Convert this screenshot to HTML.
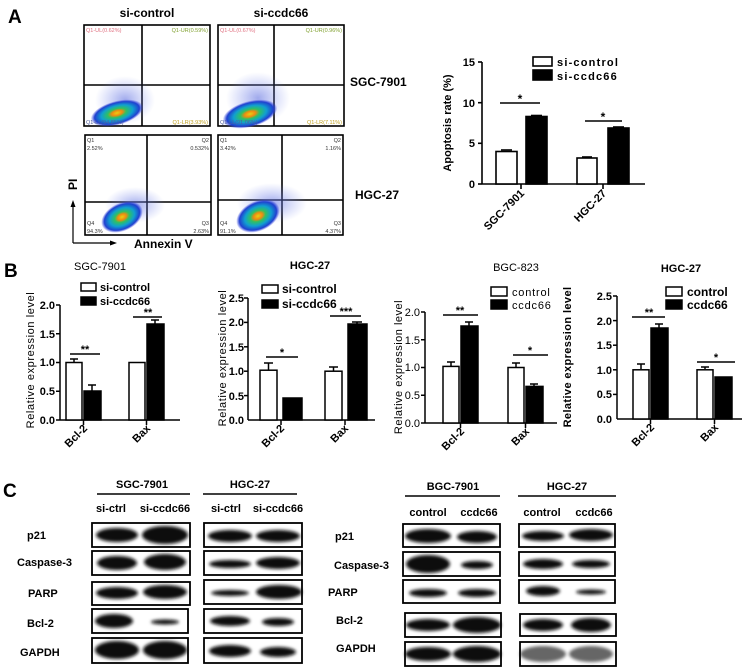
<!DOCTYPE html>
<html><head><meta charset="utf-8"><style>
html,body{margin:0;padding:0;background:#fff;}
svg{display:block;font-family:"Liberation Sans",Arial,sans-serif;}
.b{font-weight:bold;}
</style></head><body>
<svg width="749" height="669" viewBox="0 0 749 669" xmlns="http://www.w3.org/2000/svg">
<defs>
<radialGradient id="dens" cx="50%" cy="50%" r="50%">
<stop offset="0" stop-color="#e8d010"/>
<stop offset="0.2" stop-color="#f08a10"/>
<stop offset="0.35" stop-color="#30c060"/>
<stop offset="0.6" stop-color="#10a0d0"/>
<stop offset="0.85" stop-color="#2040d0"/>
<stop offset="1" stop-color="#3040e0" stop-opacity="0"/>
</radialGradient>
<radialGradient id="halo" cx="50%" cy="50%" r="50%">
<stop offset="0" stop-color="#6070e0" stop-opacity="0.6"/>
<stop offset="1" stop-color="#8090f0" stop-opacity="0"/>
</radialGradient>
<filter id="bl" x="-30%" y="-80%" width="160%" height="260%"><feGaussianBlur stdDeviation="1.6"/></filter>
</defs>

<!-- ===== A ===== -->
<text x="8" y="23" class="b" font-size="19">A</text>
<text x="147" y="17" class="b" font-size="12" text-anchor="middle">si-control</text>
<text x="281" y="17" class="b" font-size="12" text-anchor="middle">si-ccdc66</text>

<g fill="none" stroke="#000" stroke-width="1.6">
<rect x="84" y="25" width="126" height="101"/>
<rect x="218" y="25" width="126" height="101"/>
<rect x="85" y="135" width="126" height="100"/>
<rect x="218" y="135" width="125" height="100"/>
<line x1="142" y1="25" x2="142" y2="126"/><line x1="84" y1="85" x2="210" y2="85"/>
<line x1="274" y1="25" x2="274" y2="126"/><line x1="218" y1="85" x2="344" y2="85"/>
<line x1="147" y1="135" x2="147" y2="235"/><line x1="85" y1="202" x2="211" y2="202"/>
<line x1="282" y1="135" x2="282" y2="235"/><line x1="218" y1="200" x2="343" y2="200"/>
</g>
<ellipse cx="125" cy="100" rx="30" ry="24" fill="url(#halo)"/>
<ellipse cx="117" cy="113" rx="27" ry="12" fill="url(#dens)" transform="rotate(-15 117 113)"/>
<ellipse cx="258" cy="98" rx="32" ry="26" fill="url(#halo)"/>
<ellipse cx="250" cy="114" rx="28" ry="13" fill="url(#dens)" transform="rotate(-15 250 114)"/>
<ellipse cx="135" cy="205" rx="30" ry="18" fill="url(#halo)"/>
<ellipse cx="122" cy="217" rx="22" ry="14" fill="url(#dens)" transform="rotate(-25 122 217)"/>
<ellipse cx="272" cy="203" rx="35" ry="20" fill="url(#halo)"/>
<ellipse cx="258" cy="216" rx="23" ry="15" fill="url(#dens)" transform="rotate(-25 258 216)"/>
<g font-size="5.5">
<text x="86" y="32" fill="#e07080">Q1-UL(0.62%)</text>
<text x="208" y="32" fill="#80a030" text-anchor="end">Q1-UR(0.59%)</text>
<text x="86" y="124" fill="#5060a0">Q1-LL(94.85%)</text>
<text x="208" y="124" fill="#c0a020" text-anchor="end">Q1-LR(3.93%)</text>
<text x="220" y="32" fill="#e07080">Q1-UL(0.67%)</text>
<text x="342" y="32" fill="#80a030" text-anchor="end">Q1-UR(0.96%)</text>
<text x="220" y="124" fill="#5060a0">Q1-LL(91.06%)</text>
<text x="342" y="124" fill="#c0a020" text-anchor="end">Q1-LR(7.11%)</text>
<g fill="#333">
<text x="87" y="142">Q1</text><text x="87" y="150">2.52%</text>
<text x="209" y="142" text-anchor="end">Q2</text><text x="209" y="150" text-anchor="end">0.532%</text>
<text x="87" y="225">Q4</text><text x="87" y="233">94.3%</text>
<text x="209" y="225" text-anchor="end">Q3</text><text x="209" y="233" text-anchor="end">2.63%</text>
<text x="220" y="142">Q1</text><text x="220" y="150">3.42%</text>
<text x="341" y="142" text-anchor="end">Q2</text><text x="341" y="150" text-anchor="end">1.16%</text>
<text x="220" y="225">Q4</text><text x="220" y="233">91.1%</text>
<text x="341" y="225" text-anchor="end">Q3</text><text x="341" y="233" text-anchor="end">4.37%</text>
</g></g>
<text x="350" y="86" class="b" font-size="12">SGC-7901</text>
<text x="355" y="199" class="b" font-size="12">HGC-27</text>
<line x1="73" y1="243" x2="73" y2="205" stroke="#000" stroke-width="1.2"/>
<polygon points="73,200 70.5,207 75.5,207" fill="#000"/>
<line x1="73" y1="243" x2="112" y2="243" stroke="#000" stroke-width="1.2"/>
<polygon points="117,243 110,240.5 110,245.5" fill="#000"/>
<text x="0" y="0" class="b" font-size="12" transform="translate(77 190) rotate(-90)">PI</text>
<text x="134" y="248" class="b" font-size="12">Annexin V</text>

<!-- apoptosis bar chart -->
<g stroke="#000" stroke-width="1.6" fill="none">
<line x1="482" y1="62" x2="482" y2="184"/><line x1="482" y1="184" x2="645" y2="184"/>
<line x1="478" y1="62" x2="482" y2="62"/><line x1="478" y1="102.7" x2="482" y2="102.7"/>
<line x1="478" y1="143.3" x2="482" y2="143.3"/><line x1="478" y1="184" x2="482" y2="184"/>
<line x1="521" y1="184" x2="521" y2="189"/><line x1="603" y1="184" x2="603" y2="189"/>
<rect x="496" y="151.5" width="21" height="32.5" fill="#fff"/>
<rect x="526" y="116.5" width="21" height="67.5" fill="#000"/>
<rect x="577" y="158" width="20" height="26" fill="#fff"/>
<rect x="608" y="128" width="21" height="56" fill="#000"/>
<line x1="501" y1="150" x2="512" y2="150"/><line x1="531" y1="115.5" x2="542" y2="115.5"/>
<line x1="582" y1="157" x2="592" y2="157"/><line x1="613" y1="127" x2="624" y2="127"/>
<line x1="500" y1="103" x2="540" y2="103"/><line x1="585" y1="121" x2="622" y2="121"/>
<rect x="533" y="57" width="19" height="9" fill="#fff"/>
<rect x="533" y="70" width="19" height="10" fill="#000"/>
</g>
<g class="b" font-size="11" text-anchor="end">
<text x="475" y="66">15</text><text x="475" y="107">10</text><text x="475" y="147">5</text><text x="475" y="188">0</text>
</g>
<text x="520" y="103" class="b" font-size="12" text-anchor="middle">*</text>
<text x="603" y="121" class="b" font-size="12" text-anchor="middle">*</text>
<text x="557" y="66" class="b" font-size="11" letter-spacing="1.2">si-control</text>
<text x="557" y="80" class="b" font-size="11" letter-spacing="1.2">si-ccdc66</text>
<text class="b" font-size="11" text-anchor="middle" transform="translate(451 123) rotate(-90)">Apoptosis rate (%)</text>
<text class="b" font-size="11" text-anchor="end" transform="translate(525 194) rotate(-45)">SGC-7901</text>
<text class="b" font-size="11" text-anchor="end" transform="translate(607 194) rotate(-45)">HGC-27</text>

<!-- ===== B ===== -->
<text x="4" y="277" class="b" font-size="19">B</text>

<!-- B1 -->
<text x="100" y="270" font-size="11" text-anchor="middle">SGC-7901</text>
<g stroke="#000" stroke-width="1.5" fill="none">
<line x1="60" y1="305" x2="60" y2="420"/><line x1="60" y1="420" x2="180" y2="420"/>
<line x1="56" y1="305" x2="60" y2="305"/><line x1="56" y1="333.75" x2="60" y2="333.75"/><line x1="56" y1="362.5" x2="60" y2="362.5"/><line x1="56" y1="391.25" x2="60" y2="391.25"/><line x1="56" y1="420" x2="60" y2="420"/>
<line x1="83.5" y1="420" x2="83.5" y2="425"/><line x1="146.5" y1="420" x2="146.5" y2="425"/>
<rect x="66" y="362.5" width="16" height="57.5" fill="#fff"/>
<rect x="84" y="391" width="17" height="29" fill="#000"/>
<rect x="129" y="362.5" width="16" height="57.5" fill="#fff"/>
<rect x="147" y="324" width="17" height="96" fill="#000"/>
<line x1="74" y1="362" x2="74" y2="359"/><line x1="70" y1="359" x2="78" y2="359"/>
<line x1="92" y1="391" x2="92" y2="385"/><line x1="88" y1="385" x2="96" y2="385"/>
<line x1="155" y1="324" x2="155" y2="320"/><line x1="151" y1="320" x2="159" y2="320"/>
<line x1="70" y1="354" x2="100" y2="354"/><line x1="133" y1="317" x2="162" y2="317"/>
<rect x="81" y="283" width="15" height="8" fill="#fff"/><rect x="81" y="297" width="15" height="8" fill="#000"/>
</g>
<g font-size="11" text-anchor="end" class="b">
<text x="55" y="309">2.0</text><text x="55" y="338">1.5</text><text x="55" y="366">1.0</text><text x="55" y="395">0.5</text><text x="55" y="424">0.0</text>
</g>
<text x="85" y="353" class="b" font-size="11" text-anchor="middle">**</text>
<text x="148" y="316" class="b" font-size="11" text-anchor="middle">**</text>
<text x="100" y="291" class="b" font-size="11">si-control</text>
<text x="100" y="305" class="b" font-size="11">si-ccdc66</text>
<text font-size="11" text-anchor="middle" letter-spacing="0.6" transform="translate(34 360) rotate(-90)">Relative  expression level</text>
<text class="b" font-size="11" text-anchor="end" transform="translate(88 429) rotate(-45)">Bcl-2</text>
<text class="b" font-size="11" text-anchor="end" transform="translate(151 429) rotate(-45)">Bax</text>

<!-- B2 -->
<text x="310" y="269" class="b" font-size="11" text-anchor="middle">HGC-27</text>
<g stroke="#000" stroke-width="1.5" fill="none">
<line x1="248" y1="298" x2="248" y2="420"/><line x1="248" y1="420" x2="375" y2="420"/>
<line x1="244" y1="298" x2="248" y2="298"/><line x1="244" y1="322.4" x2="248" y2="322.4"/><line x1="244" y1="346.8" x2="248" y2="346.8"/><line x1="244" y1="371.2" x2="248" y2="371.2"/><line x1="244" y1="395.6" x2="248" y2="395.6"/>
<line x1="281" y1="420" x2="281" y2="425"/><line x1="345" y1="420" x2="345" y2="425"/>
<rect x="260" y="370.2" width="17" height="49.8" fill="#fff"/>
<rect x="283" y="398" width="19" height="22" fill="#000"/>
<rect x="325" y="371.2" width="17" height="48.8" fill="#fff"/>
<rect x="348" y="324" width="19" height="96" fill="#000"/>
<line x1="268.5" y1="370" x2="268.5" y2="363"/><line x1="264" y1="363" x2="273" y2="363"/>
<line x1="333.5" y1="371" x2="333.5" y2="367"/><line x1="329" y1="367" x2="338" y2="367"/>
<line x1="357" y1="324" x2="357" y2="322"/><line x1="352" y1="322" x2="362" y2="322"/>
<line x1="266" y1="357" x2="298" y2="357"/><line x1="330" y1="316" x2="361" y2="316"/>
<rect x="262" y="285" width="16" height="8" fill="#fff"/><rect x="262" y="300" width="16" height="8" fill="#000"/>
</g>
<g font-size="11" text-anchor="end" class="b">
<text x="244" y="302">2.5</text><text x="244" y="326">2.0</text><text x="244" y="351">1.5</text><text x="244" y="375">1.0</text><text x="244" y="400">0.5</text><text x="244" y="424">0.0</text>
</g>
<text x="282" y="356" class="b" font-size="11" text-anchor="middle">*</text>
<text x="346" y="315" class="b" font-size="11" text-anchor="middle">***</text>
<text x="282" y="293" class="b" font-size="12">si-control</text>
<text x="282" y="308" class="b" font-size="12">si-ccdc66</text>
<text font-size="11" text-anchor="middle" letter-spacing="0.6" transform="translate(226 358) rotate(-90)">Relative  expression level</text>
<text class="b" font-size="11" text-anchor="end" transform="translate(285 429) rotate(-45)">Bcl-2</text>
<text class="b" font-size="11" text-anchor="end" transform="translate(349 429) rotate(-45)">Bax</text>

<!-- B3 -->
<text x="516" y="271" font-size="11" text-anchor="middle">BGC-823</text>
<g stroke="#000" stroke-width="1.5" fill="none">
<line x1="425" y1="312" x2="425" y2="423"/><line x1="425" y1="423" x2="557" y2="423"/>
<line x1="421" y1="312" x2="425" y2="312"/><line x1="421" y1="339.75" x2="425" y2="339.75"/><line x1="421" y1="367.5" x2="425" y2="367.5"/><line x1="421" y1="395.25" x2="425" y2="395.25"/><line x1="421" y1="423" x2="425" y2="423"/>
<line x1="460.5" y1="423" x2="460.5" y2="428"/><line x1="525.5" y1="423" x2="525.5" y2="428"/>
<rect x="443" y="366.4" width="16" height="56.6" fill="#fff"/>
<rect x="461" y="326" width="17" height="97" fill="#000"/>
<rect x="508" y="367.5" width="16" height="55.5" fill="#fff"/>
<rect x="526" y="386.4" width="17" height="36.6" fill="#000"/>
<line x1="451" y1="366" x2="451" y2="362"/><line x1="447" y1="362" x2="455" y2="362"/>
<line x1="469" y1="326" x2="469" y2="322"/><line x1="465" y1="322" x2="473" y2="322"/>
<line x1="516" y1="367" x2="516" y2="363"/><line x1="512" y1="363" x2="520" y2="363"/>
<line x1="534" y1="386" x2="534" y2="384"/><line x1="530" y1="384" x2="538" y2="384"/>
<line x1="443" y1="315" x2="478" y2="315"/><line x1="513" y1="355" x2="548" y2="355"/>
<rect x="491" y="287" width="16" height="9" fill="#fff"/><rect x="491" y="300" width="16" height="9" fill="#000"/>
</g>
<g font-size="11" text-anchor="end">
<text x="420" y="316">2.0</text><text x="420" y="344">1.5</text><text x="420" y="371">1.0</text><text x="420" y="399">0.5</text><text x="420" y="427">0.0</text>
</g>
<text x="460" y="314" class="b" font-size="11" text-anchor="middle">**</text>
<text x="530" y="354" class="b" font-size="11" text-anchor="middle">*</text>
<text x="512" y="296" font-size="11" letter-spacing="0.8">control</text>
<text x="512" y="309" font-size="11" letter-spacing="0.8">ccdc66</text>
<text font-size="11" text-anchor="middle" letter-spacing="0.5" transform="translate(402 367) rotate(-90)">Relative  expression level</text>
<text class="b" font-size="11" text-anchor="end" transform="translate(465 432) rotate(-45)">Bcl-2</text>
<text class="b" font-size="11" text-anchor="end" transform="translate(530 432) rotate(-45)">Bax</text>

<!-- B4 -->
<text x="681" y="272" class="b" font-size="11" text-anchor="middle">HGC-27</text>
<g stroke="#000" stroke-width="1.5" fill="none">
<line x1="617" y1="296" x2="617" y2="419"/><line x1="617" y1="419" x2="742" y2="419"/>
<line x1="613" y1="296" x2="617" y2="296"/><line x1="613" y1="320.6" x2="617" y2="320.6"/><line x1="613" y1="345.2" x2="617" y2="345.2"/><line x1="613" y1="369.8" x2="617" y2="369.8"/><line x1="613" y1="394.4" x2="617" y2="394.4"/>
<line x1="650.5" y1="419" x2="650.5" y2="424"/><line x1="714.5" y1="419" x2="714.5" y2="424"/>
<rect x="633" y="369.8" width="16" height="49.2" fill="#fff"/>
<rect x="651" y="328" width="17" height="91" fill="#000"/>
<rect x="697" y="369.8" width="16" height="49.2" fill="#fff"/>
<rect x="715" y="377" width="17" height="42" fill="#000"/>
<line x1="641" y1="369" x2="641" y2="364"/><line x1="637" y1="364" x2="645" y2="364"/>
<line x1="659" y1="328" x2="659" y2="324"/><line x1="655" y1="324" x2="663" y2="324"/>
<line x1="705" y1="369" x2="705" y2="367"/><line x1="701" y1="367" x2="709" y2="367"/>
<line x1="632" y1="317" x2="665" y2="317"/><line x1="697" y1="362" x2="735" y2="362"/>
<rect x="666" y="287" width="16" height="9" fill="#fff"/><rect x="666" y="300" width="16" height="9" fill="#000"/>
</g>
<g font-size="11" text-anchor="end" class="b">
<text x="612" y="300">2.5</text><text x="612" y="325">2.0</text><text x="612" y="349">1.5</text><text x="612" y="374">1.0</text><text x="612" y="398">0.5</text><text x="612" y="423">0.0</text>
</g>
<text x="649" y="316" class="b" font-size="11" text-anchor="middle">**</text>
<text x="716" y="361" class="b" font-size="11" text-anchor="middle">*</text>
<text x="687" y="296" class="b" font-size="12">control</text>
<text x="687" y="309" class="b" font-size="12">ccdc66</text>
<text class="b" font-size="11" text-anchor="middle" letter-spacing="0.4" transform="translate(571 357) rotate(-90)">Relative expression level</text>
<text class="b" font-size="11" text-anchor="end" transform="translate(655 428) rotate(-45)">Bcl-2</text>
<text class="b" font-size="11" text-anchor="end" transform="translate(719 428) rotate(-45)">Bax</text>

<!-- ===== C ===== -->
<text x="3" y="497" class="b" font-size="19">C</text>
<g class="b" font-size="11" text-anchor="middle">
<text x="142" y="488">SGC-7901</text><text x="250" y="488">HGC-27</text>
<text x="453" y="490">BGC-7901</text><text x="567" y="490">HGC-27</text>
</g>
<g stroke="#000" stroke-width="1.5">
<line x1="97" y1="494" x2="190" y2="494"/><line x1="203" y1="494" x2="297" y2="494"/>
<line x1="405" y1="496" x2="500" y2="496"/><line x1="518" y1="496" x2="616" y2="496"/>
</g>
<g class="b" font-size="11" text-anchor="middle">
<text x="111" y="512">si-ctrl</text><text x="165" y="512">si-ccdc66</text>
<text x="226" y="512">si-ctrl</text><text x="278" y="512">si-ccdc66</text>
<text x="428" y="516">control</text><text x="479" y="516">ccdc66</text>
<text x="542" y="516">control</text><text x="594" y="516">ccdc66</text>
</g>
<g class="b" font-size="11">
<text x="27" y="539">p21</text><text x="17" y="566">Caspase-3</text><text x="28" y="597">PARP</text><text x="27" y="627">Bcl-2</text><text x="20" y="656">GAPDH</text>
<text x="335" y="540">p21</text><text x="334" y="569">Caspase-3</text><text x="328" y="596">PARP</text><text x="336" y="624">Bcl-2</text><text x="336" y="652">GAPDH</text>
</g>
<g fill="#111" filter="url(#bl)">
<ellipse cx="117" cy="535" rx="21" ry="7"/><ellipse cx="165" cy="535" rx="23" ry="9"/>
<ellipse cx="117" cy="563" rx="20" ry="7"/><ellipse cx="165" cy="562" rx="21" ry="8"/>
<ellipse cx="117" cy="593" rx="21" ry="6"/><ellipse cx="165" cy="592" rx="22" ry="7"/>
<ellipse cx="114" cy="621" rx="19" ry="7"/><ellipse cx="165" cy="622" rx="14" ry="2.5"/>
<ellipse cx="117" cy="650" rx="22" ry="9"/><ellipse cx="165" cy="650" rx="22" ry="9"/>
<ellipse cx="230" cy="536" rx="22" ry="6"/><ellipse cx="278" cy="536" rx="22" ry="6"/>
<ellipse cx="230" cy="564" rx="21" ry="4"/><ellipse cx="278" cy="563" rx="22" ry="6"/>
<ellipse cx="230" cy="593" rx="19" ry="3"/><ellipse cx="279" cy="592" rx="23" ry="7"/>
<ellipse cx="230" cy="621" rx="20" ry="5"/><ellipse cx="278" cy="622" rx="16" ry="4"/>
<ellipse cx="230" cy="651" rx="21" ry="6"/><ellipse cx="278" cy="652" rx="18" ry="5"/>
<ellipse cx="428" cy="536" rx="23" ry="7"/><ellipse cx="477" cy="537" rx="20" ry="6"/>
<ellipse cx="428" cy="564" rx="22" ry="9"/><ellipse cx="477" cy="565" rx="16" ry="4"/>
<ellipse cx="428" cy="593" rx="19" ry="4"/><ellipse cx="477" cy="593" rx="19" ry="4"/>
<ellipse cx="428" cy="625" rx="22" ry="6"/><ellipse cx="477" cy="625" rx="24" ry="8"/>
<ellipse cx="428" cy="654" rx="23" ry="7"/><ellipse cx="477" cy="654" rx="24" ry="8"/>
<ellipse cx="543" cy="536" rx="21" ry="5"/><ellipse cx="591" cy="535" rx="22" ry="6"/>
<ellipse cx="543" cy="564" rx="20" ry="5"/><ellipse cx="591" cy="564" rx="19" ry="4"/>
<ellipse cx="543" cy="591" rx="17" ry="5"/><ellipse cx="591" cy="592" rx="15" ry="2.5"/>
<ellipse cx="543" cy="625" rx="20" ry="6"/><ellipse cx="591" cy="625" rx="20" ry="7"/>
</g>
<g fill="#666" filter="url(#bl)"><ellipse cx="543" cy="654" rx="23" ry="8"/><ellipse cx="591" cy="654" rx="22" ry="8"/></g>
<g fill="none" stroke="#000" stroke-width="1.8">
<rect x="92" y="523" width="98" height="24"/><rect x="92" y="551" width="98" height="24"/><rect x="92" y="582" width="98" height="23"/><rect x="92" y="609" width="96" height="24"/><rect x="92" y="638" width="96" height="25"/>
<rect x="204" y="523" width="98" height="24"/><rect x="204" y="551" width="98" height="24"/><rect x="204" y="580" width="98" height="24"/><rect x="204" y="609" width="98" height="24"/><rect x="204" y="638" width="98" height="25"/>
<rect x="403" y="524" width="97" height="23"/><rect x="403" y="552" width="97" height="24"/><rect x="403" y="580" width="97" height="23"/><rect x="405" y="613" width="96" height="24"/><rect x="405" y="642" width="96" height="24"/>
<rect x="519" y="524" width="96" height="23"/><rect x="519" y="552" width="96" height="24"/><rect x="519" y="580" width="96" height="23"/><rect x="520" y="614" width="96" height="22"/><rect x="520" y="642" width="96" height="24"/>
</g>
</svg>
</body></html>
